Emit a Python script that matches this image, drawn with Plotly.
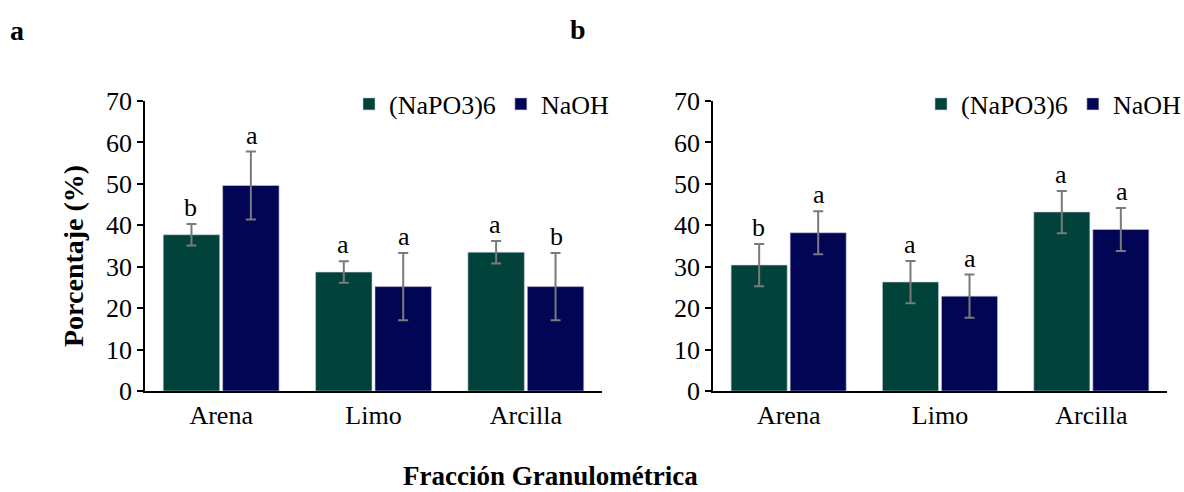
import plotly.graph_objects as go

categories = ["Arena", "Limo", "Arcilla"]
series_names = ["(NaPO3)6", "NaOH"]

# Panel a
a_napo3 = [37.7, 28.7, 33.5]
a_napo3_err = [2.6, 2.6, 2.7]
a_naoh = [49.6, 25.2, 25.2]
a_naoh_err = [8.2, 8.1, 8.1]
a_letters_napo3 = ["b", "a", "a"]
a_letters_naoh = ["a", "a", "b"]

# Panel b
b_napo3 = [30.4, 26.3, 43.2]
b_napo3_err = [5.1, 5.1, 5.1]
b_naoh = [38.2, 22.9, 39.0]
b_naoh_err = [5.2, 5.2, 5.2]
b_letters_napo3 = ["b", "a", "a"]
b_letters_naoh = ["a", "a", "a"]

y_ticks = [0, 10, 20, 30, 40, 50, 60, 70]

GREEN = "#01433A"
NAVY = "#020553"
ERR = "#7a7a7a"
FONT = "Liberation Serif"
FS = 26

W, H = 1184, 492

def px_x(p):
    return p / W

def px_y(p):
    return (H - p) / H

fig = go.Figure()

panels = [
    ("x", "y", "legend", a_napo3, a_napo3_err, a_naoh, a_naoh_err, a_letters_napo3, a_letters_naoh),
    ("x2", "y2", "legend2", b_napo3, b_napo3_err, b_naoh, b_naoh_err, b_letters_napo3, b_letters_naoh),
]

for xa, ya, lg, v1, e1, v2, e2, l1, l2 in panels:
    for name, vals, errs, col in [(series_names[0], v1, e1, GREEN), (series_names[1], v2, e2, NAVY)]:
        fig.add_trace(go.Bar(
            x=categories, y=vals, name=name, xaxis=xa, yaxis=ya, legend=lg,
            marker=dict(color=col, line=dict(color="#c8c8e0", width=0.6)),
            error_y=dict(type="data", array=errs, visible=True, color=ERR, thickness=2, width=5),
        ))
    for letters, vals, errs, off in [(l1, v1, e1, -0.2), (l2, v2, e2, 0.2)]:
        for i, (t, v, e) in enumerate(zip(letters, vals, errs)):
            fig.add_annotation(
                x=i + off, y=v + e, xref=xa, yref=ya, text=t, showarrow=False,
                xanchor="center", yanchor="bottom", yshift=0,
                font=dict(family=FONT, size=FS, color="black"),
            )

axis_common_y = dict(
    range=[0, 70], tickvals=y_ticks, ticks="outside", ticklen=6, tickwidth=1.5,
    tickcolor="black", showline=True, linecolor="black", linewidth=1.5,
    showgrid=False, zeroline=False, tickfont=dict(family=FONT, size=FS, color="black"),
    automargin=False,
)
axis_common_x = dict(
    showline=True, linecolor="black", linewidth=1.5, ticks="", showgrid=False,
    tickfont=dict(family=FONT, size=FS, color="black"), automargin=False,
)

legend_common = dict(orientation="h", yanchor="middle", font=dict(family=FONT, size=FS),
                     itemwidth=30, bgcolor="rgba(0,0,0,0)", tracegroupgap=0)

fig.update_layout(
    width=W, height=H, autosize=False,
    margin=dict(l=0, r=0, t=0, b=0, pad=0, autoexpand=False),
    paper_bgcolor="white", plot_bgcolor="white",
    barmode="group", bargap=0.22, bargroupgap=0.05,
    font=dict(family=FONT, size=FS, color="black"),
    xaxis=dict(domain=[px_x(145), px_x(602)], anchor="y", **axis_common_x),
    yaxis=dict(domain=[px_y(391), px_y(101)], anchor="x", **axis_common_y),
    xaxis2=dict(domain=[px_x(713), px_x(1167)], anchor="y2", **axis_common_x),
    yaxis2=dict(domain=[px_y(391), px_y(101)], anchor="x2", **axis_common_y),
    legend=dict(x=px_x(614), xanchor="right", y=px_y(104), **legend_common),
    legend2=dict(x=px_x(1186), xanchor="right", y=px_y(104), **legend_common),
    showlegend=True,
)

# Panel labels and shared titles
label_font = dict(family=FONT, size=28, color="black")
fig.add_annotation(x=px_x(17), y=px_y(31), xref="paper", yref="paper", text="<b>a</b>",
                   xanchor="center", yanchor="middle", showarrow=False, font=label_font)
fig.add_annotation(x=px_x(578), y=px_y(29), xref="paper", yref="paper", text="<b>b</b>",
                   xanchor="center", yanchor="middle", showarrow=False, font=label_font)
fig.add_annotation(x=px_x(74), y=px_y(256), xref="paper", yref="paper", text="<b>Porcentaje (%)</b>",
                   textangle=-90, xanchor="center", yanchor="middle", showarrow=False,
                   font=dict(family=FONT, size=28, color="black"))
fig.add_annotation(x=px_x(550), y=px_y(476), xref="paper", yref="paper", text="<b>Fracción Granulométrica</b>",
                   xanchor="center", yanchor="middle", showarrow=False,
                   font=dict(family=FONT, size=27, color="black"))

fig.write_html(
    "out.html",
    config={"displayModeBar": False},
    post_script="document.body.style.margin='0';document.body.style.overflow='hidden';",
)
